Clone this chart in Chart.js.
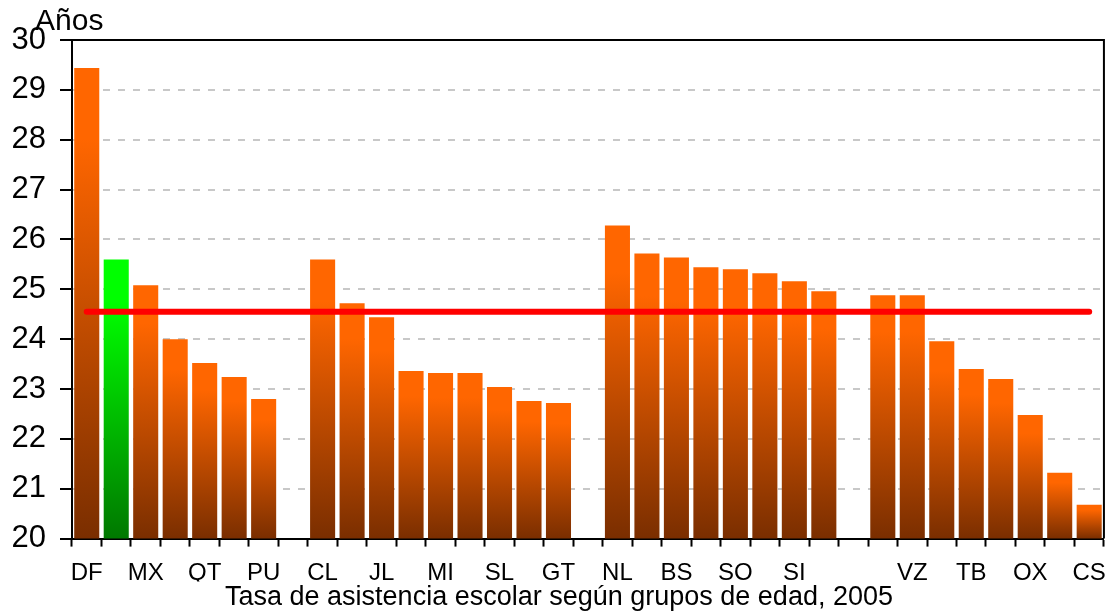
<!DOCTYPE html>
<html>
<head>
<meta charset="utf-8">
<script src="https://cdn.jsdelivr.net/npm/chart.js@4"></script>
<style>
  html, body { margin: 0; padding: 0; background: #fff; }
  #wrap { width: 1118px; height: 614px; position: relative; }
</style>
</head>
<body>
<div id="wrap"><canvas id="chartAnios"></canvas></div>
<script>
// Datos (los huecos son categorías vacías)
const estados = ['DF','','MX','','QT','','PU','','CL','','JL','','MI','','SL','','GT','',
                 'NL','','BS','','SO','','SI','','','','VZ','','TB','','OX','','CS'];
const anios = [29.44, 25.6, 25.08, 24.0, 23.52, 23.24, 22.8, null,
               25.6, 24.72, 24.44, 23.36, 23.32, 23.32, 23.04, 22.76, 22.72, null,
               26.28, 25.72, 25.64, 25.44, 25.4, 25.32, 25.16, 24.96, null,
               24.88, 24.88, 23.96, 23.4, 23.2, 22.48, 21.32, 20.68];
const destacado = 1;          // barra en verde
const promedio = 24.55;       // línea roja
const yTicks = [20, 21, 22, 23, 24, 25, 26, 27, 28, 29, 30];

(function(){
  'use strict';
  const P = {orange:'#ff6600', brown:'#7a2e00', green:'#00ff00', greenDk:'#007800', red:'#ff0000', grid:'#c8c8c8', ink:'#000'};
  const FONT = 'Liberation Sans, Arial, sans-serif';
  Chart.defaults.font.family = FONT;
  Chart.defaults.color = P.ink;

  function barFill(c){
    const chart = c.chart;
    if (!chart.chartArea || c.raw == null) return P.orange;
    const y = chart.scales.y;
    const top = y.getPixelForValue(c.raw), bot = y.getPixelForValue(yTicks[0]);
    const g = chart.ctx.createLinearGradient(0, top, 0, bot);
    const hi = c.dataIndex === destacado ? P.green : P.orange;
    const lo = c.dataIndex === destacado ? P.greenDk : P.brown;
    g.addColorStop(0, hi); g.addColorStop(0.15, hi); g.addColorStop(1, lo);
    return g;
  }

  // marco superior/derecho y rótulo "Años"
  const frame = {id:'frame', afterDatasetsDraw(chart){
    const {ctx, chartArea:a} = chart;
    ctx.save();
    ctx.strokeStyle = P.ink; ctx.lineWidth = 2;
    ctx.beginPath();
    ctx.moveTo(a.left, a.top); ctx.lineTo(a.right, a.top); ctx.lineTo(a.right, a.bottom);
    ctx.stroke();
    ctx.fillStyle = P.ink; ctx.font = '30px ' + FONT; ctx.textBaseline = 'alphabetic';
    ctx.fillText('Años', 35, 30);
    ctx.restore();
  }};

  new Chart(document.getElementById('chartAnios'), {
    data:{
      labels: estados,
      datasets:[
        {type:'line', label:'Promedio', data: estados.map(() => promedio), borderColor:P.red, borderWidth:6,
         borderCapStyle:'round', pointRadius:0, order:0},
        {type:'bar', label:'Años', data: anios, backgroundColor: barFill, barPercentage:0.85, categoryPercentage:1, order:1}
      ]},
    options:{responsive:true, maintainAspectRatio:false, animation:false,
      layout:{padding:{left:10, right:10, top:40, bottom:0}},
      plugins:{legend:{display:false}, tooltip:{enabled:false},
        title:{display:true, position:'bottom', text:'Tasa de asistencia escolar según grupos de edad, 2005',
               font:{size:27, weight:'normal'}, color:P.ink, padding:{top:0, bottom:0}}},
      scales:{
        x:{grid:{offset:true, drawOnChartArea:false, tickLength:8, tickWidth:2, tickColor:P.ink},
           border:{color:P.ink, width:2},
           ticks:{autoSkip:false, maxRotation:0, padding:12, font:{size:24}, color:P.ink},
           afterFit: s => { s.height = 43; }},
        y:{min:20, max:30, afterBuildTicks: s => { s.ticks = yTicks.map(v => ({value:v})); },
           grid:{color: c => (c.tick && (c.tick.value === 20 || c.tick.value === 30)) ? 'rgba(0,0,0,0)' : P.grid,
                 lineWidth:2, tickLength:12, tickWidth:2, tickColor:P.ink},
           border:{color:P.ink, width:2, dash:[7,8]},
           ticks:{padding:14, font:{size:31}, color:P.ink},
           afterFit: s => { s.width = 62; }}
      }},
    plugins:[frame]
  });
})();
</script>
</body>
</html>
